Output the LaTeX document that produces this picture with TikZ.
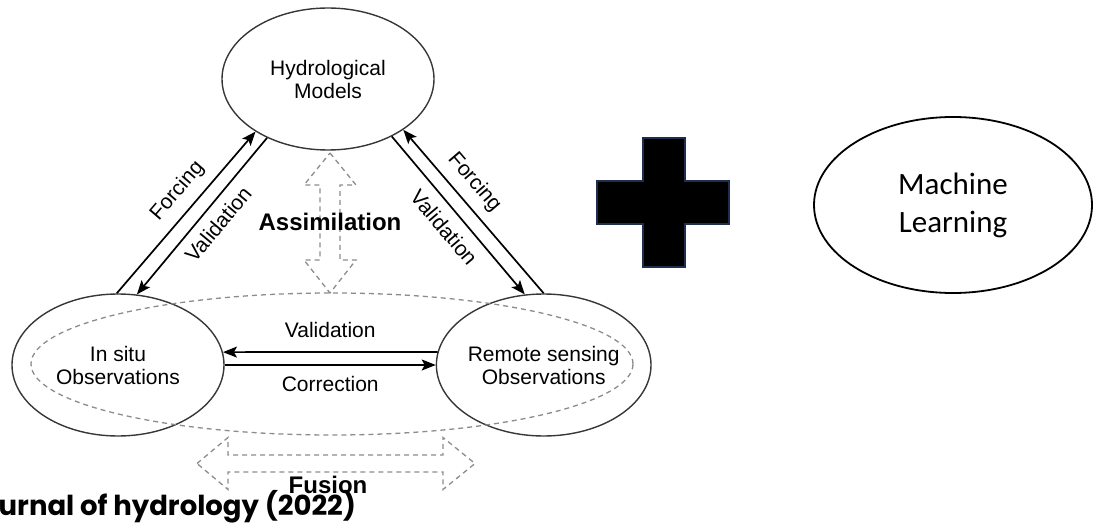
\documentclass[tikz,border=0pt]{standalone}
\usepackage{fontspec}
\setmainfont{Liberation Sans}
\newfontfamily\mlfont{Carlito}
\newfontfamily\journalfont{Poppins}
\usepackage{tikz}
\usetikzlibrary{positioning,calc,shapes,arrows.meta}
\definecolor{mygray}{RGB}{55,55,55}
\definecolor{mydash}{RGB}{140,140,140}
\definecolor{mynavy}{RGB}{31,45,79}
\newcommand*\labelsize{\fontsize{21}{23}\selectfont}
\newcommand*\bigbold{\bfseries\fontsize{24}{26}\selectfont}
\tikzstyle{obs}=[draw=mygray,ellipse,line width=1.4pt,inner sep=0pt,align=center,font=\labelsize,minimum width=212pt,minimum height=142pt]
\tikzstyle{arr}=[-{Stealth[length=14pt,width=11pt,inset=3pt]},line width=1.7pt]
\tikzstyle{fat}=[draw=mydash,dash pattern=on 5pt off 4pt,line width=1.3pt]
\tikzstyle{lbl}=[font=\labelsize,inner sep=1pt]

\begin{document}
\begin{tikzpicture}[x=1pt,y=-1pt]
      \useasboundingbox (0,0) rectangle (1094,529);
      \node (HM) [obs] at (328,79) {Hydrological\\Models};
      \node (IS) [obs] at (118,365) {In situ\\Observations};
      \node (RS) [obs, right=211pt of IS, minimum width=214pt] {Remote sensing\\Observations};
      \node (FU) [fat, ellipse, minimum width=602pt, minimum height=142pt] at (332,364) {};
      \draw[fat] (330,153) -- (356,185) -- (340,185) -- (340,260) -- (356,260) -- (330,293)
            -- (304,260) -- (320,260) -- (320,185) -- (304,185) -- cycle;
      \draw[fat] (197,463.5) -- (228,437.5) -- (228,455) -- (443,455) -- (443,437.5) -- (475,463.5)
            -- (443,489.5) -- (443,472) -- (228,472) -- (228,489.5) -- cycle;
      \node (AS) [font=\bigbold, inner sep=0pt] at (330,222) {Assimilation};
      \node (FN) [font=\bigbold, inner sep=0pt] at (328,484.5) {Fusion};
      \draw[arr] (IS.91) -- node[lbl, sloped, above=9pt, pos=0.55] {Forcing} (HM.216);
      \draw[arr] (HM.224) -- node[lbl, sloped, below=8pt, pos=0.48] {Validation} (IS.75);
      \draw[arr] (RS.90) -- node[lbl, sloped, above=8pt, pos=0.6] {Forcing} (HM.326);
      \draw[arr] (HM.318) -- node[lbl, sloped, below=9pt, pos=0.5] {Validation} (RS.105);
      \draw[arr] (RS.173) -- node[lbl, above=12pt] {Validation} (IS.7);
      \draw[arr] (IS.0) -- node[lbl, below=9pt] {Correction} (RS.180);
      \draw[fill=black, draw=mynavy, line width=1.5pt] (643,138) -- (685,138) -- (685,181) -- (729,181)
            -- (729,224) -- (685,224) -- (685,267) -- (643,267) -- (643,224) -- (597,224) -- (597,181)
            -- (643,181) -- cycle;
      \node (ML) [draw, ellipse, line width=1.8pt, inner sep=0pt, minimum width=278pt, minimum height=176pt,
            align=center, font=\mlfont\fontsize{31}{38}\selectfont] at (953,205) {Machine\\Learning};
      \node (JH) [anchor=base west, inner sep=0pt, font=\journalfont\bfseries\fontsize{27.5}{30}\selectfont]
            at (-1.5,515) {urnal of hydrology (2022)};
    \end{tikzpicture}
\end{document}
